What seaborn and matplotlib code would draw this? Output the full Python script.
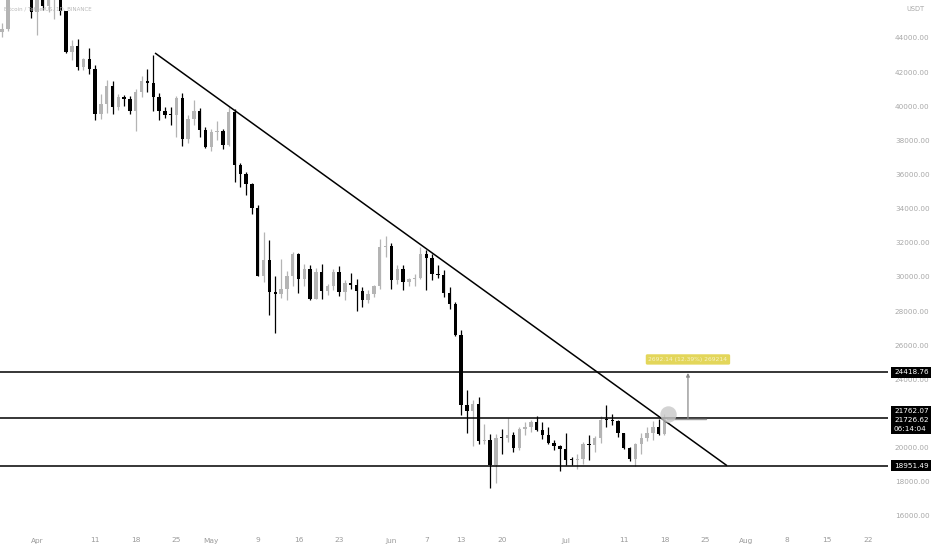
import numpy as np
import pandas as pd
import matplotlib
matplotlib.use("Agg")
import matplotlib.pyplot as plt
import matplotlib.dates as mdates
import matplotlib.transforms as mtransforms
import seaborn as sns

# ---------------- data ----------------
start_date = "2022-03-26"
opens = [44331, 44500, 46820, 47128, 47465, 47062,
         45538, 46281, 45868, 46453, 46622, 45555, 43206, 43503, 42287, 42782,
         42207, 39521, 40127, 41166, 39935, 40553, 40424, 39716, 40826, 41502,
         41375, 40527, 39741, 39478, 39469, 40458, 38112, 39235, 39742, 38596,
         37630, 38468, 38525, 37728, 39690, 36552, 36013, 35472, 34039, 30076,
         31017, 29103, 29030, 29287, 30087, 31329, 29874, 30444, 28715, 30319,
         29201, 29445, 30293, 29109, 29654, 29542, 29201, 28629, 29031, 29468, 31734,
         31801, 29805, 30452, 29700, 29864, 29919, 31373, 31125, 30204, 30109,
         29091, 28424, 26574, 22487, 22136, 22583, 20401, 20468, 18970, 20574,
         20573, 20723, 19987, 21110, 21237, 21491, 21038, 20742, 20281, 20123,
         19942, 19279, 19252, 19315, 20236, 20175, 20564, 21624, 21594, 21591,
         20862, 19963, 19328, 20212, 20569, 20836, 21190, 20785]
closes = opens[1:] + [21727]
highs = [44900, 46890, 48189, 48096, 47700, 47600,
         46720, 47213, 47444, 46890, 47200, 45600, 43900, 43970, 42800, 43410,
         42414, 40699, 41561, 41500, 40709, 40670, 40595, 40999, 41760, 42199,
         42976, 40795, 39980, 39940, 40616, 40797, 39474, 40372, 39925, 38795,
         38675, 39167, 38651, 39974, 39845, 36675, 36146, 35500, 34243, 32658,
         32162, 30032, 31083, 30343, 31460, 31400, 30788, 30709, 30545, 30777,
         29588, 30487, 30670, 29850, 30223, 29856, 29400, 29251, 29550, 32222, 32399,
         31982, 30689, 30700, 29959, 30189, 31765, 31554, 31340, 30700, 30382,
         29440, 28544, 26895, 23362, 22800, 22995, 21365, 20787, 20815, 21090,
         21723, 20900, 21233, 21529, 21614, 21868, 21520, 21200, 20432, 20179,
         20876, 19430, 19647, 20354, 20750, 20675, 21838, 22527, 21954, 21599,
         20880, 20046, 20250, 20880, 21200, 21588, 21684, 22000]
lows = [44072, 44421, 46663, 46950, 46445, 45200,
        44200, 45620, 45530, 45118, 45353, 43121, 42727, 42107, 42125, 41868,
        39200, 39254, 39588, 39551, 39800, 40019, 39546, 38536, 40571, 40820,
        39751, 39177, 39285, 38929, 38200, 37702, 37867, 38881, 38175, 37578,
        37386, 38052, 37517, 37670, 35571, 35258, 34785, 33713, 30033, 29730,
        27785, 26700, 28751, 28630, 29480, 29087, 29450, 28654, 28693, 28730,
        28947, 29255, 28866, 28669, 29294, 28019, 28241, 28450, 28800, 29299, 31200,
        29301, 29594, 29250, 29465, 29500, 29878, 29218, 29843, 29944, 28850,
        28099, 26560, 21925, 20846, 20111, 20232, 20246, 17622, 17960, 19637,
        20348, 19771, 19890, 20740, 20906, 20964, 20510, 20188, 19854, 18626,
        18975, 18978, 18781, 19055, 19304, 19761, 20251, 21189, 21319, 20655,
        19901, 19240, 18910, 19616, 20382, 20478, 20750, 20760]

levels = [24418.76, 21762.07, 18951.49]
level_labels = ["24418.76", "21762.07\n21726.62\n06:14:04", "18951.49"]
trend_dates = ["2022-04-21 07:30", "2022-07-28 18:00"]
trend_prices = [43121, 18951]
xtick_dates = ["2022-04-01", "2022-04-11", "2022-04-18", "2022-04-25", "2022-05-01",
               "2022-05-09", "2022-05-16", "2022-05-23", "2022-06-01", "2022-06-07",
               "2022-06-13", "2022-06-20", "2022-07-01", "2022-07-11", "2022-07-18",
               "2022-07-25", "2022-08-01", "2022-08-08", "2022-08-15", "2022-08-22"]
xtick_labels = ["Apr", "11", "18", "25", "May", "9", "16", "23", "Jun", "7", "13",
                "20", "Jul", "11", "18", "25", "Aug", "8", "15", "22"]
ytick_values = [16000, 18000, 20000, 24000, 26000, 28000, 30000, 32000,
                34000, 36000, 38000, 40000, 42000, 44000]
target_text = "2692.14 (12.39%) 269214"
title_text = "Bitcoin / TetherUS, 1D, BINANCE"

# ---------------- frame ----------------
df = pd.DataFrame({
    "date": pd.date_range(start_date, periods=len(opens), freq="D"),
    "open": opens, "high": highs, "low": lows, "close": closes,
})
df["up"] = df["close"] >= df["open"]
df["bottom"] = df[["open", "close"]].min(axis=1)
df["height"] = (df["close"] - df["open"]).abs().clip(lower=60)

sns.set_theme(style="white")
plt.rcParams["font.family"] = ["DejaVu Sans"]

W, H = 932, 550
fig = plt.figure(figsize=(W / 100, H / 100), dpi=100)
ax = fig.add_axes([0, 1 - 525 / H, 888 / W, 525 / H])
ax.set_facecolor("white")

up_col = "#b4b4b4"
dn_col = "#000000"
colors = np.where(df["up"], up_col, dn_col)
xd = mdates.date2num(df["date"])

ax.vlines(xd, df["low"], df["high"], colors=colors, linewidth=0.9, zorder=2)
ax.bar(xd, df["height"], bottom=df["bottom"], width=0.58, color=colors,
       linewidth=0, zorder=3)

# horizontal levels
for lv in levels:
    ax.axhline(lv, color="black", linewidth=1.1, zorder=4)

# trend line
td = mdates.date2num(pd.to_datetime(trend_dates))
ax.plot(td, trend_prices, color="black", linewidth=1.1, zorder=4,
        solid_capstyle="butt")

# axis limits
x0 = mdates.date2num(pd.Timestamp("2022-04-01")) - 37 / 5.81
x1 = mdates.date2num(pd.Timestamp("2022-04-01")) + (888 - 37) / 5.81
ax.set_xlim(x0, x1)
ax.set_ylim(15472, 46226)

# ticks
ax.set_xticks(mdates.date2num(pd.to_datetime(xtick_dates)))
ax.set_xticklabels(xtick_labels)
ax.yaxis.tick_right()
ax.set_yticks(ytick_values)
ax.set_yticklabels([f"{v:.2f}" for v in ytick_values])
ax.tick_params(axis="x", length=0, pad=9, labelsize=5.3, colors="#9a9a9a")
ax.tick_params(axis="y", length=0, pad=5, labelsize=5.2, colors="#a8a8a8")
for s in ax.spines.values():
    s.set_visible(False)
ax.grid(False)

# long-position projection
d_arrow = mdates.date2num(pd.Timestamp("2022-07-22 01:00"))
ax.plot([mdates.date2num(pd.Timestamp("2022-07-18 10:00")),
         mdates.date2num(pd.Timestamp("2022-07-25 02:00"))],
        [21680, 21680], color="#9a9a9a", linewidth=1.0, zorder=5)
ax.annotate("", xy=(d_arrow, 24380), xytext=(d_arrow, 21680),
            arrowprops=dict(arrowstyle="-|>", color="#8a8a8a", lw=0.9,
                            mutation_scale=5, shrinkA=0, shrinkB=0), zorder=5)
ax.text(d_arrow, 25170, target_text, ha="center", va="center", fontsize=4.3,
        color="#f7f3c8", zorder=6,
        bbox=dict(boxstyle="round,pad=0.45,rounding_size=0.25",
                  facecolor="#e3d65a", edgecolor="none"))
ax.scatter([mdates.date2num(pd.Timestamp("2022-07-18 14:00"))], [21974], s=140,
           color="#c8c8c8", alpha=0.8, linewidths=0, zorder=6)

# right-side price boxes
trans = mtransforms.blended_transform_factory(ax.transAxes, ax.transData)
box_y = [24418.76, 21620, 18951.49]
for y, lab in zip(box_y, level_labels):
    ax.text(1 + 6 / 888, y, lab, transform=trans, ha="left", va="center",
            fontsize=5.2, color="white", linespacing=1.55, zorder=10,
            clip_on=False,
            bbox=dict(boxstyle="square,pad=0.35", facecolor="black",
                      edgecolor="none"))

# header texts
fig.text(4 / W, 1 - 9 / H, title_text, fontsize=4.0, color="#b8b8b8",
         ha="left", va="center", zorder=0)
fig.text(906 / W, 1 - 9 / H, "USDT", fontsize=4.8, color="#a8a8a8",
         ha="left", va="center")

fig.savefig("out.png", dpi=100, facecolor="white")
